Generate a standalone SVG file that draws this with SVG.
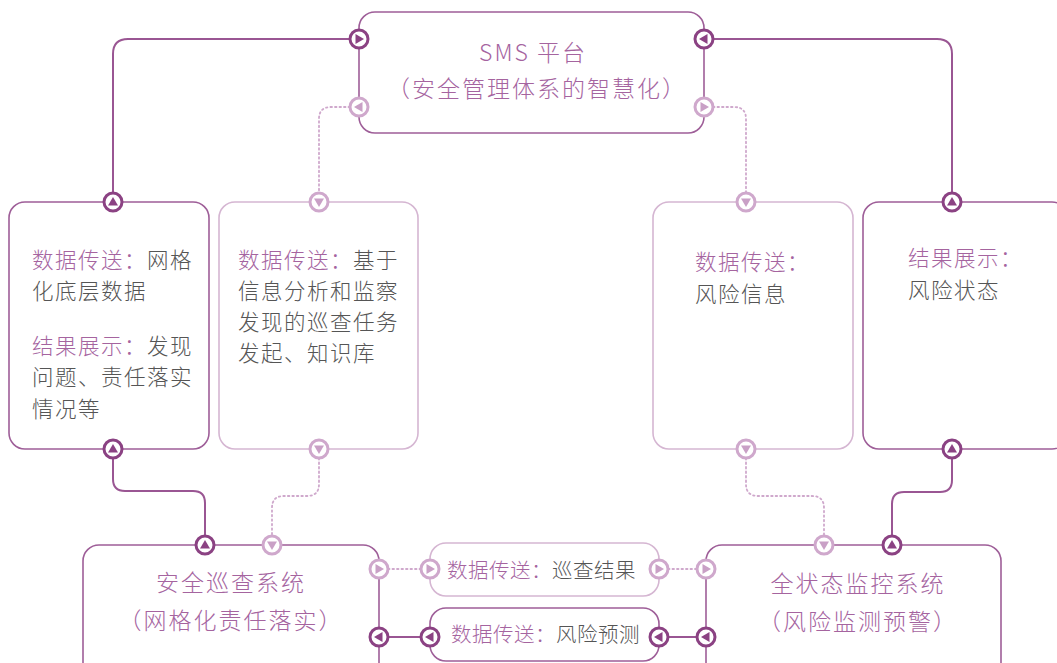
<svg xmlns="http://www.w3.org/2000/svg" width="1057" height="663" viewBox="0 0 1057 663">
<style>
.bg{fill:#ffffff}
.box{fill:#ffffff;stroke-width:1.6}
.bd{stroke:#9e5e98}
.bl{stroke:#d5b6d2}
.cd{fill:none;stroke:#9a5693;stroke-width:2}
.cl{fill:none;stroke:#cfa8cc;stroke-width:1.8;stroke-dasharray:1.5 3;stroke-linecap:round}
.pd circle{fill:#ffffff;stroke:#8b4283;stroke-width:3}
.pd use{fill:#8b4283}
.pl circle{fill:#ffffff;stroke:#cfa8cc;stroke-width:3}
.pl use{fill:#c9a0c6}
text{font-family:"Noto Sans CJK SC","Noto Sans",sans-serif;font-weight:300}
.t{font-size:21.5px;letter-spacing:1.5px;fill:#555555}
.p{fill:#a5649f}
.title{font-size:23px;letter-spacing:2px;fill:#a5649f;text-anchor:middle}
.lab{font-size:20.5px;letter-spacing:0.5px;fill:#555555}
</style>
<defs>
<path id="tr" d="M-3.5,-5 L5,0 L-3.5,5Z"/>
<path id="tl" d="M3.5,-5 L-5,0 L3.5,5Z"/>
<path id="tu" d="M-5,3.5 L0,-5 L5,3.5Z"/>
<path id="td" d="M-5,-3.5 L0,5 L5,-3.5Z"/>
</defs>
<rect class="bg" x="0" y="0" width="1057" height="663"/>

<g id="connectors">
<path class="cd" d="M113,202 V54 Q113,39 128,39 H359"/>
<path class="cd" d="M704,39 H937 Q952,39 952,54 V202"/>
<path class="cl" d="M359,107 H331 Q319,107 319,119 V202"/>
<path class="cl" d="M704,107 H734 Q746,107 746,119 V202"/>
<path class="cd" d="M113,449 V479 Q113,491 125,491 H193 Q205,491 205,503 V545"/>
<path class="cl" d="M319,449 V484 Q319,496 307,496 H284 Q272,496 272,508 V545"/>
<path class="cl" d="M746,449 V484 Q746,496 758,496 H812 Q824,496 824,508 V545"/>
<path class="cd" d="M952,449 V480 Q952,492 940,492 H904 Q892,492 892,504 V545"/>
<path class="cl" d="M379,569 H430"/>
<path class="cl" d="M659,569 H706"/>
<path class="cd" d="M379,637 H430"/>
<path class="cd" d="M659,637 H706"/>
</g>

<g id="sms">
<rect class="box bd" x="359" y="12" width="345" height="121" rx="16"/>
<text class="title" x="533" y="61">SMS 平台</text>
<text class="title" x="537" y="97">（安全管理体系的智慧化）</text>
<g class="pd" transform="translate(359,39)"><circle r="9"/><use href="#tr"/></g>
<g class="pd" transform="translate(704,39)"><circle r="9"/><use href="#tl"/></g>
<g class="pl" transform="translate(359,107)"><circle r="9"/><use href="#tl"/></g>
<g class="pl" transform="translate(704,107)"><circle r="9"/><use href="#tr"/></g>
</g>

<g id="node1">
<rect class="box bd" x="9" y="202" width="200" height="247" rx="16"/>
<text class="t" x="32" y="268"><tspan class="p">数据传送：</tspan>网格</text>
<text class="t" x="32" y="299">化底层数据</text>
<text class="t" x="32" y="354"><tspan class="p">结果展示：</tspan>发现</text>
<text class="t" x="32" y="385">问题、责任落实</text>
<text class="t" x="32" y="417">情况等</text>
<g class="pd" transform="translate(113,202)"><circle r="9"/><use href="#tu"/></g>
<g class="pd" transform="translate(113,449)"><circle r="9"/><use href="#tu"/></g>
</g>

<g id="node2">
<rect class="box bl" x="219" y="202" width="199" height="247" rx="16"/>
<text class="t" x="238" y="268"><tspan class="p">数据传送：</tspan>基于</text>
<text class="t" x="238" y="299">信息分析和监察</text>
<text class="t" x="238" y="330">发现的巡查任务</text>
<text class="t" x="238" y="361">发起、知识库</text>
<g class="pl" transform="translate(319,202)"><circle r="9"/><use href="#td"/></g>
<g class="pl" transform="translate(319,449)"><circle r="9"/><use href="#td"/></g>
</g>

<g id="node3">
<rect class="box bl" x="653" y="202" width="200" height="247" rx="16"/>
<text class="t" x="695" y="270"><tspan class="p">数据传送：</tspan></text>
<text class="t" x="695" y="302">风险信息</text>
<g class="pl" transform="translate(746,202)"><circle r="9"/><use href="#td"/></g>
<g class="pl" transform="translate(746,449)"><circle r="9"/><use href="#td"/></g>
</g>

<g id="node4">
<rect class="box bd" x="863" y="202" width="205" height="247" rx="16"/>
<text class="t" x="908" y="266"><tspan class="p">结果展示：</tspan></text>
<text class="t" x="908" y="298">风险状态</text>
<g class="pd" transform="translate(952,202)"><circle r="9"/><use href="#tu"/></g>
<g class="pd" transform="translate(952,449)"><circle r="9"/><use href="#tu"/></g>
</g>

<g id="patrol">
<rect class="box bd" x="83" y="545" width="296" height="140" rx="16"/>
<text class="title" x="231" y="591">安全巡查系统</text>
<text class="title" x="231" y="629">（网格化责任落实）</text>
<g class="pd" transform="translate(205,545)"><circle r="9"/><use href="#tu"/></g>
<g class="pl" transform="translate(272,545)"><circle r="9"/><use href="#td"/></g>
<g class="pl" transform="translate(379,569)"><circle r="9"/><use href="#tr"/></g>
<g class="pd" transform="translate(379,637)"><circle r="9"/><use href="#tl"/></g>
</g>

<g id="label1">
<rect class="box bl" x="430" y="543" width="229" height="53" rx="16"/>
<text class="lab" x="447" y="578"><tspan class="p">数据传送：</tspan>巡查结果</text>
<g class="pl" transform="translate(430,569)"><circle r="9"/><use href="#tr"/></g>
<g class="pl" transform="translate(659,569)"><circle r="9"/><use href="#tr"/></g>
</g>

<g id="label2">
<rect class="box bd" x="430" y="608" width="229" height="53" rx="16"/>
<text class="lab" x="451" y="642"><tspan class="p">数据传送：</tspan>风险预测</text>
<g class="pd" transform="translate(430,637)"><circle r="9"/><use href="#tl"/></g>
<g class="pd" transform="translate(659,637)"><circle r="9"/><use href="#tl"/></g>
</g>

<g id="monitor">
<rect class="box bd" x="706" y="545" width="295" height="140" rx="16"/>
<text class="title" x="858" y="592">全状态监控系统</text>
<text class="title" x="858" y="630">（风险监测预警）</text>
<g class="pl" transform="translate(824,545)"><circle r="9"/><use href="#td"/></g>
<g class="pd" transform="translate(892,545)"><circle r="9"/><use href="#tu"/></g>
<g class="pl" transform="translate(706,569)"><circle r="9"/><use href="#tr"/></g>
<g class="pd" transform="translate(706,637)"><circle r="9"/><use href="#tl"/></g>
</g>
</svg>
